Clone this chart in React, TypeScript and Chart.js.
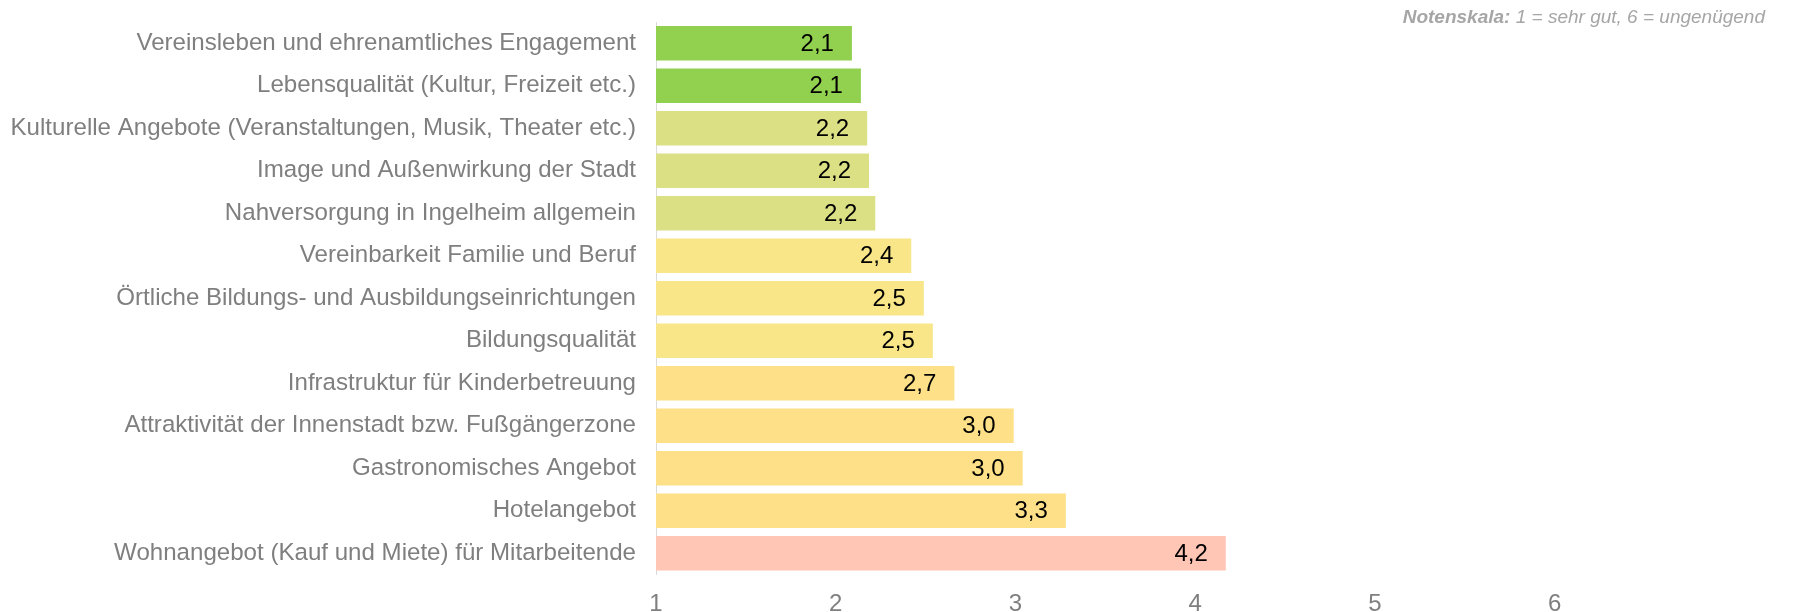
import React, { useEffect, useRef } from "react";
import { Chart, registerables } from "chart.js";

Chart.register(...registerables);

const categories = [
  "Vereinsleben und ehrenamtliches Engagement",
  "Lebensqualität (Kultur, Freizeit etc.)",
  "Kulturelle Angebote (Veranstaltungen, Musik, Theater etc.)",
  "Image und Außenwirkung der Stadt",
  "Nahversorgung in Ingelheim allgemein",
  "Vereinbarkeit Familie und Beruf",
  "Örtliche Bildungs- und Ausbildungseinrichtungen",
  "Bildungsqualität",
  "Infrastruktur für Kinderbetreuung",
  "Attraktivität der Innenstadt bzw. Fußgängerzone",
  "Gastronomisches Angebot",
  "Hotelangebot",
  "Wohnangebot (Kauf und Miete) für Mitarbeitende",
];

const grades = [2.09, 2.14, 2.175, 2.185, 2.22, 2.42, 2.49, 2.54, 2.66, 2.99, 3.04, 3.28, 4.17];

const barColors = [
  "#92d050",
  "#92d050",
  "#dce085",
  "#dce085",
  "#dce085",
  "#f8e688",
  "#f8e688",
  "#f8e688",
  "#fde087",
  "#fde087",
  "#fde087",
  "#fde087",
  "#ffc6b6",
];

const tickValues = [1, 2, 3, 4, 5, 6];
const noteBold = "Notenskala:";
const noteRest = " 1 = sehr gut, 6 = ungenügend";

const FONT = '"Liberation Sans", Arial, sans-serif';

const valueLabelPlugin = {
  id: "valueLabels",
  afterDatasetsDraw(chart: any) {
    const ctx = chart.ctx;
    const meta = chart.getDatasetMeta(0);
    ctx.save();
    ctx.font = `24px ${FONT}`;
    ctx.fillStyle = "#000000";
    ctx.textAlign = "right";
    ctx.textBaseline = "middle";
    meta.data.forEach((bar: any, i: number) => {
      const txt = grades[i].toFixed(1).replace(".", ",");
      ctx.fillText(txt, bar.x - 18, bar.y + 1);
    });
    ctx.restore();
  },
};

const notePlugin = {
  id: "noteText",
  afterDraw(chart: any) {
    const ctx = chart.ctx;
    ctx.save();
    ctx.fillStyle = "#a6a6a6";
    ctx.textBaseline = "alphabetic";
    ctx.textAlign = "right";
    const xr = 1765;
    const y = 23;
    ctx.font = `italic 19px ${FONT}`;
    ctx.fillText(noteRest, xr, y);
    const w = ctx.measureText(noteRest).width;
    ctx.font = `italic bold 19px ${FONT}`;
    ctx.fillText(noteBold, xr - w, y);
    ctx.restore();
  },
};

export default function App() {
  const ref = useRef<HTMLCanvasElement | null>(null);

  useEffect(() => {
    if (!ref.current) return;
    const chart = new Chart(ref.current, {
      type: "bar",
      data: {
        labels: categories,
        datasets: [
          {
            data: grades,
            backgroundColor: barColors,
            borderWidth: 0,
            barPercentage: 0.816,
            categoryPercentage: 1,
          },
        ],
      },
      options: {
        indexAxis: "y",
        animation: false,
        responsive: false,
        devicePixelRatio: 1,
        layout: { padding: { top: 22, right: 59.5, left: 0, bottom: 0 } },
        plugins: {
          legend: { display: false },
          tooltip: { enabled: false },
          title: { display: false },
        },
        scales: {
          x: {
            type: "linear",
            min: 1,
            max: 7,
            grid: { display: false, drawTicks: false },
            border: { display: false },
            afterBuildTicks(axis: any) {
              axis.ticks = [...tickValues, 7].map((v) => ({ value: v }));
            },
            afterFit(axis: any) {
              axis.height = 37.5;
              axis.paddingLeft = 0;
              axis.paddingRight = 0;
            },
            ticks: {
              padding: 15,
              color: "#7f7f7f",
              font: { family: FONT, size: 24 },
              callback: (v: any) => (tickValues.includes(Number(v)) ? String(v) : ""),
            },
          },
          y: {
            grid: { display: false, drawTicks: false },
            border: { display: true, color: "#d9d9d9", width: 1 },
            afterFit(axis: any) {
              axis.width = 656;
              axis.paddingTop = 0;
              axis.paddingBottom = 0;
            },
            ticks: {
              padding: 20,
              color: "#7f7f7f",
              font: { family: FONT, size: 24.1 },
              autoSkip: false,
            },
          },
        },
      },
      plugins: [valueLabelPlugin, notePlugin],
    });
    return () => chart.destroy();
  }, []);

  return (
    <div style={{ position: "fixed", left: 0, top: 0, width: 1794, height: 612, background: "#ffffff" }}>
      <canvas ref={ref} width={1794} height={612} style={{ display: "block" }} />
    </div>
  );
}
